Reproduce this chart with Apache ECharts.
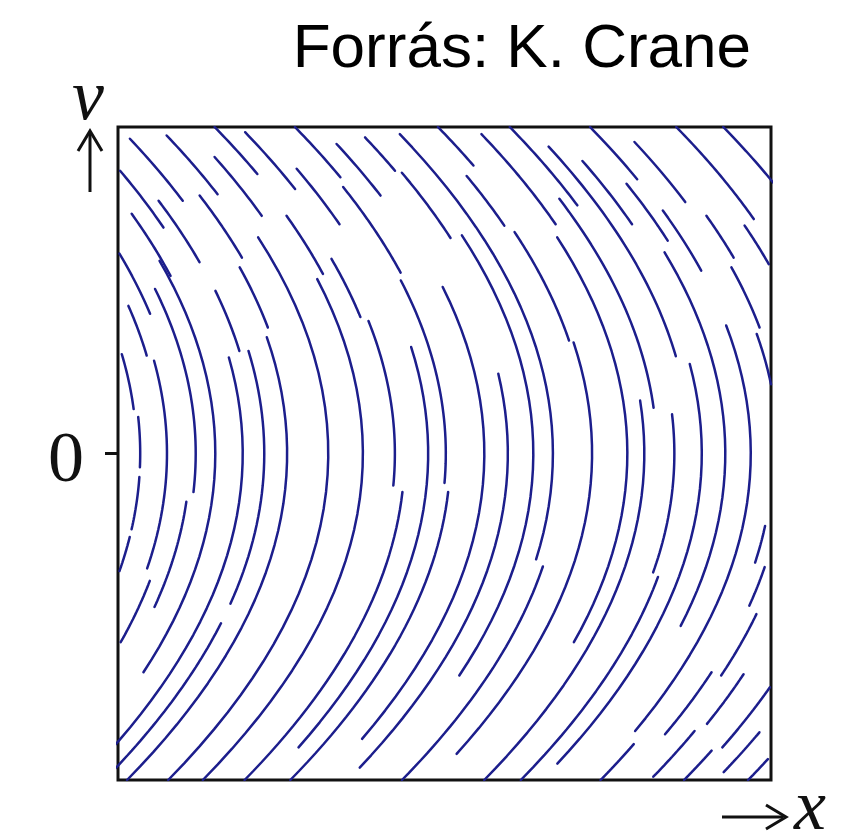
<!DOCTYPE html>
<html>
<head>
<meta charset="utf-8">
<script src="https://cdn.jsdelivr.net/npm/echarts@6/dist/echarts.min.js"></script>
<style>
  html, body { margin: 0; padding: 0; background: #fff; }
  #chart { width: 862px; height: 835px; }
</style>
</head>
<body>
<div id="chart"></div>
<script>
// Phase portrait of motion under a constant force: every trajectory is
// x = x0 - v^2 / (2 * ACCEL). Each streak is drawn along one trajectory,
// given by its turning point x0 and the velocity range it covers.
const ACCEL = 51;

// Axis extents (x across, v up) and the single labelled tick.
const xRange = [0, 100];
const vRange = [-50, 50];
const vTicks = [0];

// Streaks in the upper half: [x0, v start, v end]
const upperStreaks = [
  [24.6, 48.2, 38.7], [30.7, 48.7, 39.7], [39.3, 50, 42.8], [43.2, 49.2, 40.5],
  [51.6, 50, 42.3], [55.5, 47.4, 39.5], [60.8, 48.4, 43.3], [61.6, 43.0, 33.0],
  [73.5, 50, 44.1], [18.7, 43.3, 34.6], [35.0, 45.4, 36.4], [20.9, 38.7, 29.3],
  [27.8, 39.5, 30.0], [46.0, 43.6, 35.1], [50.8, 40.8, 27.7], [38.8, 36.4, 27.5],
  [15.3, 36.7, 27.2], [9.4, 30.6, 21.4], [6.6, 22.6, 15.0], [2.85, 15.2, 6.8],
  [21.0, 24.9, 15.7], [26.6, 28.5, 19.3], [41.4, 29.8, 20.9], [79.1, 48.9, 35.1],
  [84.5, 50, 38.0], [87.6, 47.0, 14.9], [90.8, 44.8, 35.1], [96.8, 50, 42.0],
  [101.4, 47.7, 38.5], [110.0, 50, 35.9], [117.2, 50, 41.5], [71.1, 42.5, 34.9],
  [72.0, 33.9, 17.3], [94.6, 41.3, 32.6], [97.0, 37.2, 28.0], [103.1, 36.4, 30.0],
  [107.9, 34.9, 29.0], [101.9, 28.5, 19.3], [101.1, 18.3, 10.6], [82.5, 39.0, 7.0]
];

// Streaks that run through the middle band: [x0, v start, v end]
const middleStreaks = [
  [66.6, 48.9, -16.2], [14.9, 29.5, -33.5], [11.9, 25.2, -5.9], [7.5, 14.2, -17.6],
  [3.4, 5.6, -2.1], [3.4, -3.6, -11.6], [3.4, -12.8, -18.0], [19.1, 14.7, -50],
  [22.4, 15.7, -23.0], [32.2, 33.1, -50], [25.9, 17.8, -50], [37.5, 26.7, -50],
  [42.4, 20.3, -4.9], [50.2, 26.5, -4.5], [47.5, 16.3, -45.0], [63.6, 33.4, -34.0],
  [72.6, 17.0, -46.0], [93.0, 30.8, -26.4], [96.9, 19.6, -42.5], [89.4, 13.7, -47.5],
  [80.6, 8.1, -50], [59.7, 12.2, -48.1], [56.1, 25.5, -43.7], [78.0, 33.1, -28.9],
  [85.2, 6.0, -18.2]
];

// Streaks in the lower half: [x0, v start, v end]
const lowerStreaks = [
  [22.4, -26.0, -50], [43.9, -5.9, -50], [50.9, -5.9, -50], [86.2, -18.9, -50],
  [68.0, -17.3, -50], [8.6, -19.5, -28.9], [11.0, -7.4, -23.5], [100.3, -11.1, -16.7],
  [102.0, -17.4, -23.3], [103.7, -24.6, -34.0], [101.9, -33.5, -43.0], [107.0, -33.8, -41.4],
  [112.4, -35.8, -45.0], [116.1, -42.7, -48.8], [121.0, -46.8, -50], [106.0, -42.5, -49.5],
  [98.4, -44.5, -50], [111.2, -45.5, -50]
];

const STREAK_COLOR = '#1c1e8c';
const STEPS = 32;

function trajectory(x0, vStart, vEnd) {
  const pts = [];
  for (let i = 0; i <= STEPS; i++) {
    const v = vStart + (vEnd - vStart) * i / STEPS;
    pts.push([x0 - v * v / (2 * ACCEL), v]);
  }
  return pts;
}

const series = upperStreaks.concat(middleStreaks, lowerStreaks).map(function (s) {
  return {
    type: 'line',
    data: trajectory(s[0], s[1], s[2]),
    showSymbol: false,
    clip: true,
    silent: true,
    smooth: false,
    lineStyle: { color: STREAK_COLOR, width: 2.5, cap: 'round' }
  };
});

const chart = echarts.init(document.getElementById('chart'), null, { renderer: 'canvas' });

const serif = '"Liberation Serif", "DejaVu Serif", serif';
const ink = '#111';

chart.setOption({
  animation: false,
  backgroundColor: '#fff',
  grid: {
    left: 118, top: 127, width: 653, height: 653,
    show: true, borderColor: ink, borderWidth: 3, backgroundColor: 'transparent'
  },
  xAxis: {
    type: 'value', min: xRange[0], max: xRange[1],
    axisLine: { show: false }, axisTick: { show: false },
    axisLabel: { show: false }, splitLine: { show: false }
  },
  yAxis: {
    type: 'value', min: vRange[0], max: vRange[1], interval: 50,
    axisLine: { show: false },
    axisTick: { show: true, customValues: vTicks, length: 13, lineStyle: { color: ink, width: 3 } },
    axisLabel: {
      show: true, customValues: vTicks, margin: 34,
      formatter: '{z|{value}}',
      rich: { z: { fontFamily: serif, fontSize: 72, color: ink, padding: [18, 0, 0, 0] } }
    },
    splitLine: { show: false }
  },
  title: {
    text: 'Forrás: K. Crane',
    right: 106, top: 14,
    textStyle: { fontFamily: '"Liberation Sans", Arial, sans-serif', fontSize: 62, fontWeight: 'normal', color: '#000' }
  },
  graphic: [
    { type: 'text', left: 72, top: 64,
      style: { text: 'v', font: 'italic 72px ' + serif, fill: ink } },
    { type: 'line', shape: { x1: 90, y1: 192, x2: 90, y2: 133 }, style: { stroke: ink, lineWidth: 3 } },
    { type: 'polyline', shape: { points: [[78, 151], [90, 131], [102, 151]] },
      style: { stroke: ink, lineWidth: 3, fill: null } },
    { type: 'line', shape: { x1: 722, y1: 817, x2: 783, y2: 817 }, style: { stroke: ink, lineWidth: 3 } },
    { type: 'polyline', shape: { points: [[766, 805], [786, 817], [766, 829]] },
      style: { stroke: ink, lineWidth: 3, fill: null } },
    { type: 'text', left: 794, top: 774,
      style: { text: 'x', font: 'italic 72px ' + serif, fill: ink } }
  ],
  series: series
});
</script>
</body>
</html>
